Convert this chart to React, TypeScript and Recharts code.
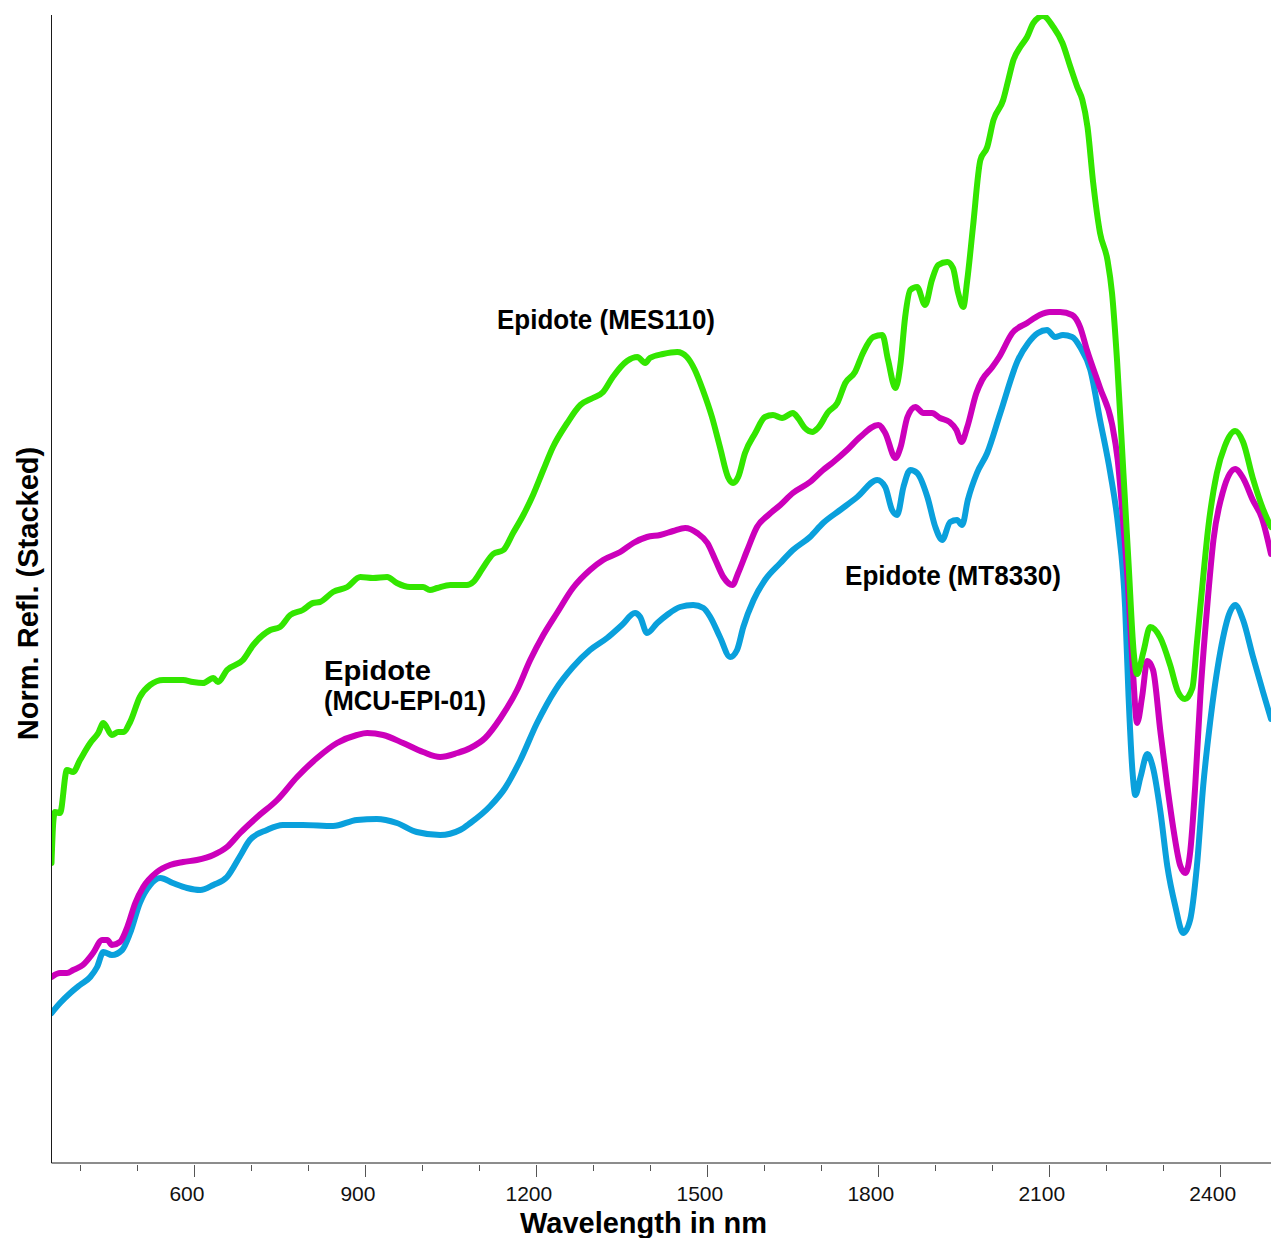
import React from "react";
import { LineChart, Line, XAxis, YAxis } from "recharts";

// Wavelength axis (nm)
const tickValues = [400, 500, 600, 700, 800, 900, 1000, 1100, 1200, 1300, 1400, 1500, 1600, 1700, 1800, 1900, 2000, 2100, 2200, 2300, 2400];
const labelledTicks = [600, 900, 1200, 1500, 1800, 2100, 2400];

// Epidote (MES110) - offset spectrum
const mes110Nm = [
  350, 353, 356, 365, 377, 388, 400, 418, 432, 441,
  456, 467, 476, 488, 505, 523, 546, 563, 581, 598,
  616, 634, 642, 658, 686, 704, 734, 751, 769, 791,
  809, 821, 844, 869, 892, 914, 939, 956, 979, 1002,
  1014, 1027, 1050, 1079, 1090, 1107, 1125, 1143, 1160, 1178,
  1195, 1213, 1230, 1255, 1278, 1300, 1318, 1335, 1360, 1378,
  1392, 1400, 1423, 1448, 1465, 1479, 1493, 1509, 1523, 1537,
  1546, 1555, 1567, 1585, 1602, 1616, 1632, 1651, 1660, 1672,
  1685, 1695, 1713, 1729, 1743, 1760, 1774, 1792, 1808, 1818,
  1831, 1840, 1848, 1857, 1869, 1883, 1895, 1906, 1922, 1932,
  1941, 1950, 1957, 1967, 1980, 1992, 2003, 2020, 2029, 2038,
  2050, 2062, 2073, 2090, 2108, 2124, 2138, 2150, 2159, 2168,
  2178, 2190, 2203, 2211, 2220, 2231, 2240, 2249, 2255, 2266,
  2278, 2296, 2313, 2327, 2339, 2352, 2360, 2369, 2380, 2395,
  2409, 2427, 2441, 2458, 2476, 2490,
];
const mes110Refl = [
  0.300, 0.340, 0.351, 0.350, 0.393, 0.391, 0.403, 0.420, 0.430, 0.440,
  0.428, 0.431, 0.431, 0.441, 0.466, 0.478, 0.483, 0.483, 0.483, 0.481,
  0.480, 0.485, 0.481, 0.493, 0.503, 0.518, 0.533, 0.536, 0.548, 0.553,
  0.560, 0.561, 0.571, 0.576, 0.586, 0.585, 0.586, 0.580, 0.576, 0.576,
  0.573, 0.575, 0.578, 0.578, 0.581, 0.595, 0.609, 0.613, 0.630, 0.648,
  0.668, 0.693, 0.716, 0.740, 0.758, 0.765, 0.771, 0.786, 0.802, 0.806,
  0.800, 0.805, 0.809, 0.811, 0.806, 0.793, 0.773, 0.746, 0.716, 0.686,
  0.680, 0.686, 0.710, 0.730, 0.746, 0.748, 0.745, 0.750, 0.745, 0.735,
  0.731, 0.735, 0.751, 0.760, 0.780, 0.791, 0.810, 0.826, 0.828, 0.803,
  0.775, 0.800, 0.846, 0.873, 0.876, 0.858, 0.883, 0.898, 0.901, 0.895,
  0.870, 0.856, 0.883, 0.936, 1.003, 1.016, 1.043, 1.063, 1.083, 1.103,
  1.116, 1.126, 1.140, 1.147, 1.136, 1.120, 1.096, 1.076, 1.063, 1.036,
  0.980, 0.930, 0.903, 0.870, 0.801, 0.690, 0.600, 0.511, 0.489, 0.511,
  0.536, 0.525, 0.498, 0.471, 0.464, 0.475, 0.520, 0.574, 0.636, 0.690,
  0.717, 0.732, 0.721, 0.685, 0.654, 0.636,
];

// Epidote (MCU-EPI-01)
const mcuNm = [
  350, 365, 377, 388, 405, 423, 439, 448, 456, 470,
  483, 497, 511, 535, 558, 581, 605, 634, 658, 681,
  711, 746, 781, 816, 851, 886, 904, 932, 967, 1002,
  1032, 1062, 1085, 1111, 1138, 1167, 1190, 1213, 1237, 1265,
  1295, 1318, 1348, 1371, 1395, 1418, 1441, 1462, 1483, 1501,
  1515, 1529, 1545, 1555, 1571, 1588, 1608, 1629, 1651, 1681,
  1704, 1722, 1746, 1769, 1801, 1813, 1831, 1840, 1852, 1866,
  1880, 1895, 1909, 1926, 1938, 1947, 1957, 1973, 1983, 2001,
  2013, 2036, 2062, 2084, 2102, 2120, 2141, 2155, 2167, 2190,
  2211, 2221, 2230, 2239, 2248, 2255, 2264, 2273, 2283, 2296,
  2308, 2319, 2331, 2340, 2348, 2357, 2366, 2378, 2389, 2406,
  2427, 2441, 2458, 2474, 2490,
];
const mcuRefl = [
  0.186, 0.190, 0.190, 0.193, 0.198, 0.210, 0.223, 0.223, 0.218, 0.221,
  0.236, 0.260, 0.276, 0.291, 0.298, 0.301, 0.303, 0.308, 0.316, 0.330,
  0.346, 0.363, 0.386, 0.405, 0.420, 0.428, 0.430, 0.428, 0.420, 0.411,
  0.406, 0.410, 0.415, 0.425, 0.445, 0.473, 0.503, 0.528, 0.550, 0.575,
  0.593, 0.603, 0.611, 0.620, 0.626, 0.628, 0.632, 0.635, 0.630, 0.620,
  0.603, 0.586, 0.578, 0.590, 0.613, 0.636, 0.648, 0.658, 0.670, 0.681,
  0.693, 0.701, 0.713, 0.726, 0.738, 0.730, 0.705, 0.716, 0.746, 0.756,
  0.750, 0.750, 0.745, 0.741, 0.733, 0.721, 0.736, 0.770, 0.783, 0.796,
  0.806, 0.830, 0.840, 0.848, 0.851, 0.851, 0.848, 0.836, 0.813, 0.775,
  0.739, 0.703, 0.645, 0.578, 0.489, 0.440, 0.467, 0.502, 0.493, 0.431,
  0.377, 0.333, 0.297, 0.290, 0.310, 0.377, 0.467, 0.556, 0.623, 0.672,
  0.694, 0.685, 0.663, 0.645, 0.609,
];

// Epidote (MT8330)
const mt8330Nm = [
  350, 365, 383, 400, 418, 430, 441, 456, 474, 488,
  505, 523, 541, 563, 588, 611, 634, 658, 681, 698,
  728, 756, 791, 844, 886, 921, 956, 991, 1032, 1067,
  1085, 1120, 1146, 1172, 1202, 1234, 1265, 1295, 1325, 1351,
  1374, 1383, 1395, 1413, 1430, 1453, 1476, 1494, 1506, 1523,
  1541, 1553, 1564, 1582, 1602, 1629, 1651, 1681, 1704, 1734,
  1764, 1799, 1813, 1825, 1834, 1845, 1857, 1869, 1887, 1901,
  1913, 1927, 1939, 1948, 1958, 1974, 1992, 2015, 2046, 2064,
  2081, 2097, 2111, 2125, 2141, 2155, 2173, 2190, 2208, 2222,
  2234, 2240, 2247, 2252, 2261, 2273, 2283, 2296, 2308, 2322,
  2336, 2348, 2360, 2371, 2383, 2401, 2418, 2427, 2441, 2458,
  2476, 2490,
];
const mt8330Refl = [
  0.150, 0.160, 0.170, 0.178, 0.186, 0.196, 0.211, 0.208, 0.213, 0.230,
  0.260, 0.278, 0.285, 0.280, 0.275, 0.273, 0.278, 0.286, 0.307, 0.323,
  0.333, 0.338, 0.338, 0.337, 0.343, 0.344, 0.340, 0.331, 0.328, 0.333,
  0.340, 0.357, 0.375, 0.402, 0.440, 0.473, 0.496, 0.513, 0.525, 0.538,
  0.550, 0.546, 0.530, 0.540, 0.548, 0.556, 0.558, 0.555, 0.546, 0.526,
  0.506, 0.513, 0.536, 0.563, 0.583, 0.600, 0.613, 0.626, 0.640, 0.653,
  0.666, 0.683, 0.676, 0.653, 0.648, 0.676, 0.693, 0.690, 0.666, 0.636,
  0.623, 0.641, 0.643, 0.638, 0.663, 0.690, 0.710, 0.750, 0.803, 0.820,
  0.830, 0.833, 0.826, 0.828, 0.826, 0.816, 0.793, 0.743, 0.690, 0.636,
  0.556, 0.467, 0.391, 0.368, 0.386, 0.409, 0.395, 0.351, 0.297, 0.257,
  0.230, 0.243, 0.297, 0.377, 0.440, 0.511, 0.551, 0.558, 0.543, 0.507,
  0.471, 0.444,
];

const toPoints = (nm: number[], refl: number[]) =>
  nm.map((w, i) => ({ nm: w, refl: refl[i] }));

const mes110 = toPoints(mes110Nm, mes110Refl);
const mcu = toPoints(mcuNm, mcuRefl);
const mt8330 = toPoints(mt8330Nm, mt8330Refl);

const WIDTH = 1271;
const HEIGHT = 1238;
const PLOT_BOTTOM = 1163;
const SANS = "'Liberation Sans', Arial, sans-serif";
const LABEL_FONT = "'Liberation Sans Narrow', 'Liberation Sans', Arial, sans-serif";

function WavelengthTick(props: any) {
  const { x, payload } = props;
  const major = labelledTicks.includes(payload.value);
  const xx = Math.round(x) + 0.5;
  return (
    <g>
      <line x1={xx} x2={xx} y1={PLOT_BOTTOM + 2} y2={PLOT_BOTTOM + (major ? 14 : 8)} stroke="#555" strokeWidth={1} />
      {major && (
        <text x={x - 7} y={1201} textAnchor="middle" fontFamily={SANS} fontSize={21} fill="#111">
          {payload.value}
        </text>
      )}
    </g>
  );
}

export default function App() {
  const lineProps = {
    dataKey: "refl",
    type: "monotone" as const,
    strokeWidth: 6,
    dot: false,
    activeDot: false,
    isAnimationActive: false,
    strokeLinejoin: "round" as const,
    strokeLinecap: "round" as const,
  };
  return (
    <div style={{ position: "absolute", left: 0, top: 0, background: "#fff" }}>
      <LineChart width={WIDTH} height={HEIGHT} margin={{ top: 15, right: 0, bottom: 0, left: 50.5 }}>
        <XAxis
          type="number"
          dataKey="nm"
          domain={[350, 2490]}
          ticks={tickValues}
          interval={0}
          allowDataOverflow
          height={75}
          tickLine={false}
          axisLine={{ stroke: "#1a1a1a" }}
          tick={(p: any) => <WavelengthTick {...p} />}
        />
        <YAxis
          type="number"
          domain={[0, 1.148]}
          allowDataOverflow
          width={1}
          tick={false}
          tickLine={false}
          axisLine={{ stroke: "#1a1a1a" }}
        />
        <Line {...lineProps} data={mt8330} stroke="#0aa0dc" />
        <Line {...lineProps} data={mcu} stroke="#cc00bb" />
        <Line {...lineProps} data={mes110} stroke="#33e600" />

        <text x={643.5} y={1233} textAnchor="middle" fontFamily={SANS} fontWeight="bold" fontSize={29} fill="#000">
          Wavelength in nm
        </text>
        <text
          x={37.5}
          y={593.5}
          transform="rotate(-90 37.5 593.5)"
          textAnchor="middle"
          fontFamily={SANS}
          fontWeight="bold"
          fontSize={29}
          fill="#000"
        >
          Norm. Refl. (Stacked)
        </text>

        <g fontFamily={LABEL_FONT} fontWeight="bold" fontSize={28} fill="#000">
          <text x={497} y={329} textLength={218} lengthAdjust="spacingAndGlyphs">
            Epidote (MES110)
          </text>
          <text x={324} y={680} textLength={107} lengthAdjust="spacingAndGlyphs">
            Epidote
          </text>
          <text x={324} y={710} textLength={162} lengthAdjust="spacingAndGlyphs">
            (MCU-EPI-01)
          </text>
          <text x={845} y={585} textLength={216} lengthAdjust="spacingAndGlyphs">
            Epidote (MT8330)
          </text>
        </g>
      </LineChart>
    </div>
  );
}
